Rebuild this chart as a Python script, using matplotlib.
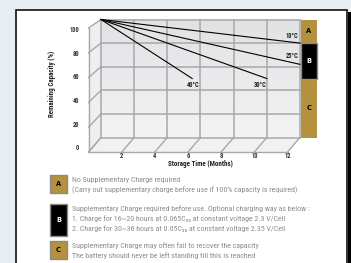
import numpy as np
import matplotlib
matplotlib.use("Agg")
import matplotlib.pyplot as plt
from matplotlib.patches import Rectangle, Polygon
from matplotlib import font_manager

W, H = 351, 263

# ---- data ----
month_ticks = [2, 4, 6, 8, 10, 12]
cap_ticks = [0, 20, 40, 60, 80, 100]
temps = ["10°C", "25°C", "30°C", "40°C"]
end_month = [12, 12, 10, 5.5]
end_cap = [80, 62, 50, 50]
zone_names = ["A", "B", "C"]
zone_low = [80, 50, 0]
zone_high = [100, 80, 50]
legend_lines = [
    ["No Supplementary Charge required",
     "(Carry out supplementary charge before use if 100% capacity is required)"],
    ["Supplementary Charge required before use. Optional charging way as below :",
     "1. Charge for 16~20 hours at 0.065C\u2082\u2080 at constant voltage 2.3 V/Cell",
     "2. Charge for 30~36 hours at 0.05C\u2082\u2080 at constant voltage 2.35 V/Cell"],
    ["Supplementary Charge may often fail to recover the capacity",
     "The battery should never be left standing till this is reached"],
]

GOLD = "#b5903f"
GRID = "#a6a8aa"


def pick_narrow():
    names = {(f.name, f.stretch) for f in font_manager.fontManager.ttflist}
    for nm in ["Liberation Sans Narrow", "Roboto Condensed", "Open Sans Condensed"]:
        if any(n == nm for n, _ in names):
            return [nm, "DejaVu Sans"], "normal"
    if ("DejaVu Sans", "condensed") in names:
        return ["DejaVu Sans"], "condensed"
    return ["Roboto", "DejaVu Sans"], "normal"


NARROW, STRETCH = pick_narrow()


def fx(x):          # pixel (from left) -> figure fraction
    return x / W


def fy(y):          # pixel (from top) -> figure fraction
    return 1 - y / H


def front(m, v):    # back-wall coords -> front-face coords (fake depth)
    return m - 0.75, 1.051 * v - 12.3


fig = plt.figure(figsize=(W / 100, H / 100), dpi=100)
fig.patch.set_facecolor("#e9eef2")
renderer = fig.canvas.get_renderer()


def fit_size(text, width_px, size0=6.0, **kw):
    t = fig.text(0, 0, text, fontsize=size0, family=NARROW, stretch=STRETCH, **kw)
    w = t.get_window_extent(renderer).width
    t.remove()
    return size0 * width_px / w


# white panel with black border and right shadow
fig.patches.append(Rectangle((fx(16), fy(275)), fx(347) - fx(16), fy(10) - fy(275),
                             transform=fig.transFigure, facecolor="white",
                             edgecolor="#111111", lw=1.2, zorder=-5))
fig.patches.append(Rectangle((fx(347.5), 0), fx(351) - fx(347.5), fy(12),
                             transform=fig.transFigure, facecolor="black",
                             edgecolor="none", zorder=-5))

# chart axes spanning the figure, data units = months / capacity on the back wall
ax = fig.add_axes([0, 0, 1, 1])
ax.set_xlim(-101 / 16.58, (W - 101) / 16.58)
ax.set_ylim((137.5 - H) / 1.18, 137.5 / 1.18)
ax.axis("off")
ax.patch.set_alpha(0)

# back wall with soft gradient
grad = np.linspace(0, 1, 64).reshape(-1, 1)
ax.imshow(grad, extent=(0, 12, 0, 100), cmap=matplotlib.colors.LinearSegmentedColormap.from_list(
    "w", ["#f3f3f4", "#e1e2e4"]), origin="lower", aspect="auto", zorder=1)

# left wall
fl0 = front(0, 0)
fl1 = front(0, 100)
ax.add_patch(Polygon([(0, 0), (0, 100), fl1, fl0], closed=True,
                     facecolor="#eeeff0", edgecolor="none", zorder=1))
# floor
fr0 = front(12, 0)
ax.add_patch(Polygon([(0, 0), (12, 0), fr0, fl0], closed=True,
                     facecolor="#f1f1f2", edgecolor="none", zorder=1))

# grid
for m in [0] + month_ticks:
    ax.plot([m, m], [0, 100], color=GRID, lw=1.1, zorder=2)
    f = front(m, 0)
    ax.plot([m, f[0]], [0, f[1]], color=GRID, lw=1.0, zorder=2)
for v in cap_ticks:
    ax.plot([0, 12], [v, v], color=GRID, lw=1.1, zorder=2)
    f = front(0, v)
    ax.plot([0, f[0]], [v, f[1]], color=GRID, lw=1.0, zorder=2)
ax.plot([fl0[0], fl1[0]], [fl0[1], fl1[1]], color=GRID, lw=1.0, zorder=2)
ax.plot([fl0[0], fr0[0]], [fl0[1], fr0[1]], color=GRID, lw=1.0, zorder=2)

TICK_FS = 4.7
# tick labels
for v in cap_ticks:
    f = front(0, v)
    ax.text(f[0] - 0.55, v - 9, str(v), ha="right", va="center",
            fontsize=TICK_FS, fontweight="bold", color="#333333",
            family=NARROW, stretch=STRETCH)
for m in month_ticks:
    f = front(m, 0)
    ax.text(f[0], f[1] - 3.8, str(m), ha="center", va="center",
            fontsize=TICK_FS, fontweight="bold", color="#333333",
            family=NARROW, stretch=STRETCH)

LAB_FS = fit_size("Storage Time (Months)", 65, fontweight="bold")
ax.text(fx(200), fy(163.5), "Storage Time (Months)", transform=fig.transFigure,
        ha="center", va="center", fontsize=LAB_FS, fontweight="bold", color="#222222",
        family=NARROW, stretch=STRETCH)
ax.text(fx(52), fy(84), "Remaining Capacity (%)", transform=fig.transFigure,
        ha="center", va="center", rotation=90, fontsize=LAB_FS, fontweight="bold",
        color="#222222", family=NARROW, stretch=STRETCH)

# self-discharge lines
offsets = [(-1, 2, "right", "bottom"), (-1, 3, "right", "bottom"),
           (0, -1.5, "right", "top"), (1, -1.5, "center", "top")]
for t, m, c, (dx, dy, ha, va) in zip(temps, end_month, end_cap, offsets):
    ax.plot([0, m], [100, c], color="black", lw=0.8, zorder=3)
    ax.annotate(t, (m, c), xytext=(dx, dy), textcoords="offset points",
                ha=ha, va=va, fontsize=TICK_FS, fontweight="bold", color="#222222",
                family=NARROW, stretch=STRETCH, zorder=4)

# zone bar on the right
for name, lo, hi in zip(zone_names, zone_low, zone_high):
    dark = name == "B"
    ax.add_patch(Rectangle((12.06, lo), 0.97, hi - lo,
                           facecolor="black" if dark else GOLD,
                           edgecolor="#8a8a8a" if dark else "none", lw=1.0, zorder=3))
    ax.text(12.545, (lo + hi) / 2, name, ha="center", va="center", fontsize=4.8,
            fontweight="bold", color="white" if dark else "black", zorder=4)

# legend below the chart
LEG_FS = fit_size(legend_lines[0][1], 225)
box_top = [175, 204, 241]
box_h = [18, 32, 18]
text_top = [176, 205, 242]
for name, bt, bh, tt, lines in zip(zone_names, box_top, box_h, text_top, legend_lines):
    dark = name == "B"
    fig.patches.append(Rectangle((fx(50), fy(bt + bh)), fx(67) - fx(50), fy(bt) - fy(bt + bh),
                                 transform=fig.transFigure,
                                 facecolor="black" if dark else GOLD,
                                 edgecolor="#8a8a8a", lw=1.0, zorder=1))
    fig.text(fx(58.5), fy(bt + bh / 2), name, ha="center", va="center", fontsize=4.8,
             fontweight="bold", color="white" if dark else "black", zorder=2)
    for i, line in enumerate(lines):
        fig.text(fx(72), fy(tt + 10 * i + 4), line, ha="left", va="center",
                 fontsize=LEG_FS, color="#8c8c8c", family=NARROW, stretch=STRETCH)

fig.savefig("out.png", dpi=100, facecolor=fig.get_facecolor())
